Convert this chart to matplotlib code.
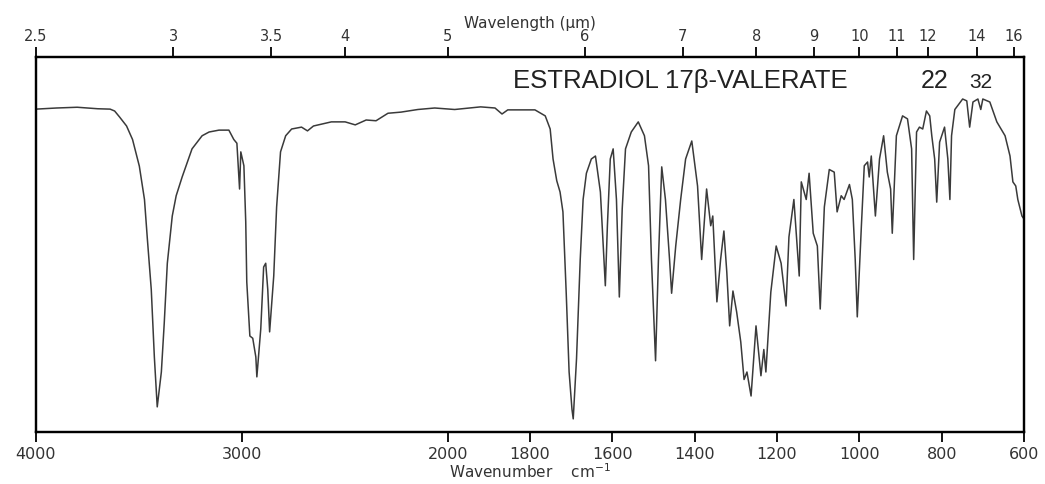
import numpy as np
import matplotlib
matplotlib.use("Agg")
import matplotlib.pyplot as plt

# -----------------------------
# DATA
# -----------------------------
wavenumber = [4000, 3900, 3800, 3700, 3640, 3618, 3594, 3560, 3531, 3498,
              3473, 3459, 3440, 3425, 3411, 3391, 3377, 3362, 3338, 3319,
              3290, 3242, 3193, 3159, 3111, 3063, 3039, 3024, 3011, 3005,
              2990, 2981, 2976, 2961, 2947, 2932, 2927, 2908, 2894, 2884,
              2874, 2865, 2845, 2831, 2812, 2787, 2758, 2710, 2681, 2652,
              2565, 2498, 2449, 2396, 2348, 2290, 2227, 2145, 2063, 1983,
              1920, 1885, 1868, 1854, 1788, 1763, 1751, 1744, 1735, 1727,
              1720, 1712, 1705, 1698, 1695, 1687, 1678, 1671, 1663, 1651,
              1641, 1629, 1622, 1617, 1612, 1605, 1598, 1590, 1583, 1576,
              1568, 1554, 1537, 1522, 1512, 1505, 1495, 1488, 1480, 1471,
              1461, 1456, 1446, 1434, 1422, 1407, 1393, 1383, 1371, 1361,
              1356, 1346, 1337, 1329, 1322, 1315, 1307, 1298, 1288, 1280,
              1273, 1263, 1251, 1239, 1232, 1227, 1215, 1202, 1190, 1178,
              1171, 1159, 1146, 1141, 1129, 1122, 1112, 1102, 1095, 1085,
              1073, 1061, 1054, 1044, 1037, 1024, 1017, 1010, 1005, 995,
              988, 980, 976, 971, 961, 951, 941, 932, 924, 920,
              910, 895, 883, 873, 868, 861, 854, 846, 837, 829,
              824, 817, 812, 805, 793, 785, 780, 776, 768, 749,
              739, 732, 724, 712, 705, 700, 683, 666, 646, 634,
              627, 620, 615, 605, 600]
transmittance = [86.1, 86.4, 86.6, 86.2, 86.1, 85.6, 84.0, 81.6, 78.0, 70.9,
                 62.0, 51.5, 38.0, 20.0, 6.7, 16.0, 29.0, 45.0, 57.6, 63.0,
                 68.0, 75.5, 79.0, 80.0, 80.5, 80.5, 78.0, 77.0, 64.8, 74.7,
                 71.0, 56.0, 40.0, 25.6, 25.0, 20.0, 14.7, 27.5, 44.0, 45.0,
                 38.0, 26.7, 41.6, 60.0, 74.7, 79.0, 80.8, 81.3, 80.3, 81.6,
                 82.7, 82.7, 81.9, 83.2, 83.0, 85.0, 85.3, 86.0, 86.4, 86.0,
                 86.7, 86.4, 84.8, 85.9, 85.9, 84.3, 80.8, 72.8, 67.0, 64.0,
                 58.7, 37.0, 16.0, 6.0, 3.5, 19.5, 46.0, 62.0, 69.0, 72.8,
                 73.6, 64.0, 49.6, 39.0, 55.0, 72.8, 75.5, 62.0, 36.0, 59.5,
                 75.5, 80.0, 82.7, 79.0, 71.0, 46.0, 19.0, 46.0, 70.7, 62.0,
                 46.0, 37.0, 49.6, 62.0, 72.8, 77.6, 65.6, 46.0, 64.8, 55.0,
                 57.6, 34.7, 46.0, 53.6, 42.7, 28.3, 37.6, 32.0, 24.0, 14.0,
                 16.0, 9.6, 28.3, 15.0, 22.0, 16.0, 37.3, 49.6, 45.0, 33.6,
                 52.0, 62.0, 41.6, 66.7, 62.0, 69.0, 53.0, 49.6, 32.8, 60.0,
                 70.0, 69.3, 58.7, 63.0, 62.0, 66.0, 62.0, 46.0, 30.7, 55.0,
                 71.0, 72.0, 68.0, 73.6, 57.6, 72.8, 79.0, 69.3, 64.8, 53.0,
                 79.0, 84.3, 83.5, 75.5, 46.0, 80.0, 81.3, 80.8, 85.6, 84.3,
                 79.0, 72.8, 61.3, 77.3, 81.3, 72.8, 62.0, 79.0, 86.0, 88.8,
                 88.3, 81.3, 88.0, 88.8, 86.0, 88.8, 88.0, 82.7, 79.0, 73.6,
                 66.7, 65.6, 62.0, 57.6, 56.8]

wn_ticks = [4000, 3000, 2000, 1800, 1600, 1400, 1200, 1000, 800, 600]
um_ticks = [2.5, 3, 3.5, 4, 5, 6, 7, 8, 9, 10, 11, 12, 14, 16]
um_labels = ['2.5', '3', '3.5', '4', '5', '6', '7', '8', '9', '10', '11', '12', '14', '16']


# piecewise x scale: 4000-2000 compressed 2x relative to 2000-600
def fwd(w):
    w = np.asarray(w, dtype=float)
    return np.where(w >= 2000, 1400 + (w - 2000) / 2.0, w - 600)


def inv(u):
    u = np.asarray(u, dtype=float)
    return np.where(u >= 1400, 2000 + 2.0 * (u - 1400), u + 600)


# -----------------------------
# PLOT
# -----------------------------
fig = plt.figure(figsize=(10.45, 4.85), dpi=100)
ax = fig.add_axes([36 / 1045, 52 / 485, 988 / 1045, 375 / 485])

ax.plot(wavenumber, transmittance, color='#3a3a3a', lw=1.1)

ax.set_xscale('function', functions=(fwd, inv))
ax.set_xlim(4000, 600)
ax.set_ylim(0, 100)
ax.set_xticks(wn_ticks)
ax.set_xticklabels([str(t) for t in wn_ticks])
ax.minorticks_off()
ax.set_yticks([])
ax.tick_params(axis='x', direction='out', length=7, width=1.3, pad=3,
               labelsize=11.5, labelcolor='#333333')
ax.set_xlabel('Wavenumber    cm$^{-1}$', fontsize=11, color='#333333', labelpad=0)
for s in ax.spines.values():
    s.set_linewidth(1.6)

ax2 = ax.twiny()
ax2.set_xscale('function', functions=(fwd, inv))
ax2.set_xlim(4000, 600)
ax2.set_xticks([1e4 / t for t in um_ticks])
ax2.set_xticklabels(um_labels)
ax2.minorticks_off()
ax2.tick_params(axis='x', direction='out', length=7, width=1.3, pad=3,
                labelsize=10.5, labelcolor='#333333')
ax2.set_xlabel('Wavelength (µm)', fontsize=11, color='#333333', labelpad=1)
for s in ax2.spines.values():
    s.set_linewidth(1.6)

ax.text(0.4828, 0.92, 'ESTRADIOL 17β-VALERATE', transform=ax.transAxes,
        fontsize=18.5, family='Liberation Sans', color='#222222', va='baseline')
ax.text(0.8957, 0.92, '22', transform=ax.transAxes,
        fontsize=18, family='Liberation Sans', color='#222222', va='baseline')
ax.text(0.9443, 0.92, '32', transform=ax.transAxes,
        fontsize=15, family='Liberation Sans', color='#222222', va='baseline')

plt.savefig('out.png', dpi=100)
